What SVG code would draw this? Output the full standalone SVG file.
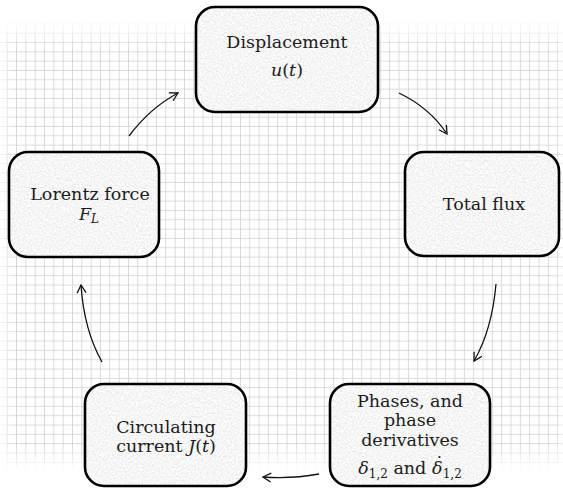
<svg xmlns="http://www.w3.org/2000/svg" width="563" height="488" viewBox="0 0 563 488">
  <defs>
    <style>
      .box { fill: none; stroke: #000; stroke-width: 2.6; }
      .grain { fill: #000; filter: url(#grain); }
      .lbl { font-family: "DejaVu Serif", "Liberation Serif", serif; font-size: 17.5px; fill: #1c1c1c; text-anchor: middle; }
      .m { font-style: italic; }
      .sub { font-size: 12px; }
      .link { fill: none; stroke: #111; stroke-width: 1.3; marker-end: url(#head); }
    </style>
    <!-- graph-paper background -->
    <pattern id="grid" x="6.7" y="4.7" width="9.33" height="9.33" patternUnits="userSpaceOnUse">
      <path d="M0,0 H9.33 M0,0 V9.33" fill="none" stroke="#cfcfcf" stroke-width="1.5"/>
    </pattern>
    <linearGradient id="fadeV" x1="0" y1="0" x2="0" y2="488" gradientUnits="userSpaceOnUse">
      <stop offset="0.04" stop-color="#fff" stop-opacity="0"/>
      <stop offset="0.10" stop-color="#fff" stop-opacity="1"/>
      <stop offset="0.91" stop-color="#fff" stop-opacity="1"/>
      <stop offset="0.965" stop-color="#fff" stop-opacity="0"/>
    </linearGradient>
    <linearGradient id="fadeH" x1="0" y1="0" x2="563" y2="0" gradientUnits="userSpaceOnUse">
      <stop offset="0" stop-color="#fff" stop-opacity="0.3"/>
      <stop offset="0.025" stop-color="#fff" stop-opacity="1"/>
      <stop offset="0.985" stop-color="#fff" stop-opacity="1"/>
      <stop offset="1" stop-color="#fff" stop-opacity="0.6"/>
    </linearGradient>
    <mask id="maskV"><rect width="563" height="488" fill="url(#fadeV)"/></mask>
    <mask id="maskH"><rect width="563" height="488" fill="url(#fadeH)"/></mask>
    <!-- speckled stone fill for the boxes -->
    <filter id="grain" x="0" y="0" width="1" height="1">
      <feTurbulence type="fractalNoise" baseFrequency="0.55" numOctaves="3" seed="7" result="noise"/>
      <feColorMatrix in="noise" type="matrix" values="0.4 0 0 0 0.72  0.4 0 0 0 0.72  0.4 0 0 0 0.72  0 0 0 0 1" result="gray"/>
      <feComposite in="gray" in2="SourceGraphic" operator="in"/>
    </filter>
    <marker id="head" markerWidth="12" markerHeight="12" refX="9" refY="5" orient="auto" markerUnits="userSpaceOnUse">
      <path d="M1,0.5 L9,5 L1,9.5" fill="none" stroke="#111" stroke-width="1.3"/>
    </marker>
  </defs>

  <rect width="563" height="488" fill="#fff"/>
  <g mask="url(#maskV)">
    <g mask="url(#maskH)">
      <rect width="563" height="488" fill="url(#grid)"/>
    </g>
  </g>

  <g id="connectors">
    <path class="link" d="M129,136 Q150,108 178,93"/>
    <path class="link" d="M399,93 Q430,108 447,134"/>
    <path class="link" d="M496,284 Q492,330 474,361"/>
    <path class="link" d="M319,474 Q292,479 263,477"/>
    <path class="link" d="M102,362 Q84,330 81,285"/>
  </g>

  <g id="displacement">
    <rect class="grain" x="196" y="7" width="182" height="105" rx="19"/>
    <rect class="box" x="196" y="7" width="182" height="105" rx="19"/>
    <text class="lbl" x="287" y="48">Displacement</text>
    <text class="lbl" x="287" y="76"><tspan class="m">u</tspan>(<tspan class="m">t</tspan>)</text>
  </g>

  <g id="total-flux">
    <rect class="grain" x="405" y="152" width="154" height="104" rx="19"/>
    <rect class="box" x="405" y="152" width="154" height="104" rx="19"/>
    <text class="lbl" x="484" y="210">Total flux</text>
  </g>

  <g id="phases">
    <rect class="grain" x="330" y="384" width="160" height="102" rx="19"/>
    <rect class="box" x="330" y="384" width="160" height="102" rx="19"/>
    <text class="lbl" x="410" y="407">Phases, and</text>
    <text class="lbl" x="410" y="426">phase</text>
    <text class="lbl" x="410" y="446">derivatives</text>
    <!-- the second delta carries a time-derivative dot, shifted back over it -->
    <text class="lbl" x="410" y="474"><tspan class="m">δ</tspan><tspan class="sub" dy="4">1,2</tspan><tspan dy="-4"> and </tspan><tspan class="m">δ</tspan><tspan dx="-7.5" dy="-5">˙</tspan><tspan class="sub" dx="-1" dy="9">1,2</tspan></text>
  </g>

  <g id="circulating-current">
    <rect class="grain" x="85" y="384" width="161" height="102" rx="19"/>
    <rect class="box" x="85" y="384" width="161" height="102" rx="19"/>
    <text class="lbl" x="166" y="433">Circulating</text>
    <text class="lbl" x="166" y="452">current <tspan class="m">J</tspan>(<tspan class="m">t</tspan>)</text>
  </g>

  <g id="lorentz-force">
    <rect class="grain" x="9" y="152" width="150" height="105" rx="19"/>
    <rect class="box" x="9" y="152" width="150" height="105" rx="19"/>
    <text class="lbl" x="90" y="200">Lorentz force</text>
    <text class="lbl" x="89" y="220"><tspan class="m">F</tspan><tspan class="m sub" dy="3">L</tspan></text>
  </g>
</svg>
